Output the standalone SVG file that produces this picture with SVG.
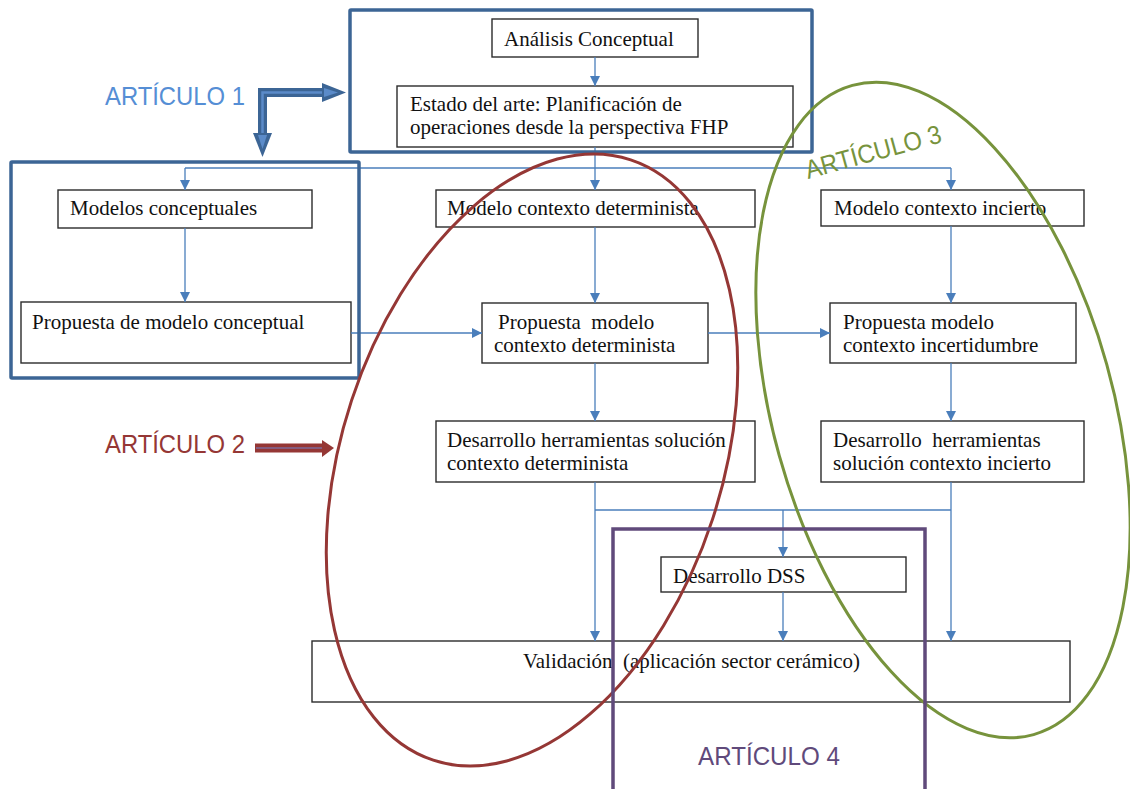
<svg xmlns="http://www.w3.org/2000/svg" width="1130" height="789" viewBox="0 0 1130 789">
<style>
.box{fill:#fff;stroke:#2b2b2b;stroke-width:1.4}
.t{font-family:"Liberation Serif","Times New Roman",serif;font-size:21px;fill:#111}
.c{fill:none;stroke:#4A7EBB;stroke-width:1.3}
.art{font-family:"Liberation Sans",Arial,sans-serif;font-size:26px}
.grp{fill:none;stroke:#3C6595;stroke-width:3.5}
</style>
<defs>
<marker id="ah" markerUnits="userSpaceOnUse" markerWidth="10" markerHeight="10" viewBox="0 0 10 10" refX="10" refY="5" orient="auto">
<path d="M0,0 L10,5 L0,10 z" fill="#4A7EBB"/>
</marker>
</defs>
<rect width="1130" height="789" fill="#fff"/>

<g id="nodes">
<g id="n-analisis"><rect class="box" x="492" y="19" width="206" height="38"/><text class="t" x="504" y="46">Análisis Conceptual</text></g>
<g id="n-estado"><rect class="box" x="397" y="86" width="396" height="61"/><text class="t" x="410" y="111">Estado del arte: Planificación de</text><text class="t" x="410" y="134">operaciones desde la perspectiva FHP</text></g>
<g id="n-modelos"><rect class="box" x="58" y="190" width="254" height="38"/><text class="t" x="70" y="215">Modelos conceptuales</text></g>
<g id="n-moddet"><rect class="box" x="436" y="190" width="319" height="37"/><text class="t" x="447" y="215">Modelo contexto determinista</text></g>
<g id="n-modinc"><rect class="box" x="821" y="190" width="263" height="36"/><text class="t" x="834" y="215">Modelo contexto incierto</text></g>
<g id="n-propcon"><rect class="box" x="21" y="302" width="330" height="61"/><text class="t" x="32" y="329">Propuesta de modelo conceptual</text></g>
<g id="n-propdet"><rect class="box" x="482" y="303" width="226" height="60"/><text class="t" x="498" y="329" xml:space="preserve">Propuesta  modelo</text><text class="t" x="494" y="352">contexto determinista</text></g>
<g id="n-propinc"><rect class="box" x="830" y="303" width="246" height="60"/><text class="t" x="843" y="329">Propuesta modelo</text><text class="t" x="843" y="352">contexto incertidumbre</text></g>
<g id="n-desdet"><rect class="box" x="436" y="421" width="319" height="61"/><text class="t" x="447" y="447">Desarrollo herramientas solución</text><text class="t" x="447" y="470">contexto determinista</text></g>
<g id="n-desinc"><rect class="box" x="821" y="421" width="263" height="61"/><text class="t" x="833" y="447" xml:space="preserve">Desarrollo  herramientas</text><text class="t" x="833" y="470">solución contexto incierto</text></g>
<g id="n-dss"><rect class="box" x="661" y="557" width="245" height="35"/><text class="t" x="673" y="583">Desarrollo DSS</text></g>
<g id="n-valid"><rect class="box" x="312" y="641" width="758" height="61"/><text class="t" x="523" y="668" font-size="20" textLength="337" lengthAdjust="spacingAndGlyphs" xml:space="preserve">Validación  (aplicación sector cerámico)</text></g>
</g>

<g id="connectors">
<path class="c" d="M595,57 V86" marker-end="url(#ah)"/>
<path class="c" d="M595,147 V190" marker-end="url(#ah)"/>
<path class="c" d="M185,168 H951"/>
<path class="c" d="M185,168 V190" marker-end="url(#ah)"/>
<path class="c" d="M951,168 V190" marker-end="url(#ah)"/>
<path class="c" d="M185,228 V302" marker-end="url(#ah)"/>
<path class="c" d="M595,227 V303" marker-end="url(#ah)"/>
<path class="c" d="M951,226 V303" marker-end="url(#ah)"/>
<path class="c" d="M351,333 H482" marker-end="url(#ah)"/>
<path class="c" d="M708,333 H830" marker-end="url(#ah)"/>
<path class="c" d="M595,363 V421" marker-end="url(#ah)"/>
<path class="c" d="M951,363 V421" marker-end="url(#ah)"/>
<path class="c" d="M595,482 V641" marker-end="url(#ah)"/>
<path class="c" d="M951,482 V641" marker-end="url(#ah)"/>
<path class="c" d="M595,510 H951"/>
<path class="c" d="M783,510 V557" marker-end="url(#ah)"/>
<path class="c" d="M783,592 V641" marker-end="url(#ah)"/>
</g>

<g id="articulo1">
<rect class="grp" x="350" y="10" width="462" height="142" rx="1"/>
<rect class="grp" x="11" y="162" width="348" height="216" rx="1"/>
<text class="art" x="105" y="105" fill="#558ED5" textLength="140" lengthAdjust="spacingAndGlyphs">ARTÍCULO 1</text>
<polyline points="262.5,134 262.5,92.5 323,92.5" fill="none" stroke="#3C6595" stroke-width="9" stroke-linejoin="miter"/>
<polyline points="262.5,134 262.5,92.5 323,92.5" fill="none" stroke="#5B8BC9" stroke-width="2.5"/>
<polygon points="322,83 346,92.5 322,102" fill="#3C6595"/>
<polygon points="324,88 338,92.5 324,97" fill="#5B8BC9"/>
<polygon points="253,133 262.5,157 272,133" fill="#3C6595"/>
<polygon points="258,135 262.5,149 267,135" fill="#5B8BC9"/>
</g>

<g id="articulo2">
<ellipse cx="532" cy="460" rx="190" ry="316" transform="rotate(18.2 532 460)" fill="none" stroke="#953735" stroke-width="3"/>
<text class="art" x="105" y="453" fill="#953735" textLength="140" lengthAdjust="spacingAndGlyphs">ARTÍCULO 2</text>
<line x1="255" y1="448" x2="324" y2="448" stroke="#953735" stroke-width="9"/>
<line x1="256" y1="448" x2="326" y2="448" stroke="#7F6A9A" stroke-width="1.5"/>
<polygon points="322,440 334,448 322,457" fill="#953735"/>
</g>

<g id="articulo3">
<ellipse cx="943" cy="410" rx="170" ry="337" transform="rotate(-15.6 943 410)" fill="none" stroke="#77933C" stroke-width="3"/>
<text class="art" x="808" y="179" fill="#77933C" textLength="140" lengthAdjust="spacingAndGlyphs" transform="rotate(-15.3 808 179)">ARTÍCULO 3</text>
</g>

<g id="articulo4">
<path d="M613,795 V529 H925 V795" fill="none" stroke="#604A7B" stroke-width="3.5"/>
<text class="art" x="698" y="765" fill="#604A7B" textLength="142" lengthAdjust="spacingAndGlyphs">ARTÍCULO 4</text>
</g>
</svg>
